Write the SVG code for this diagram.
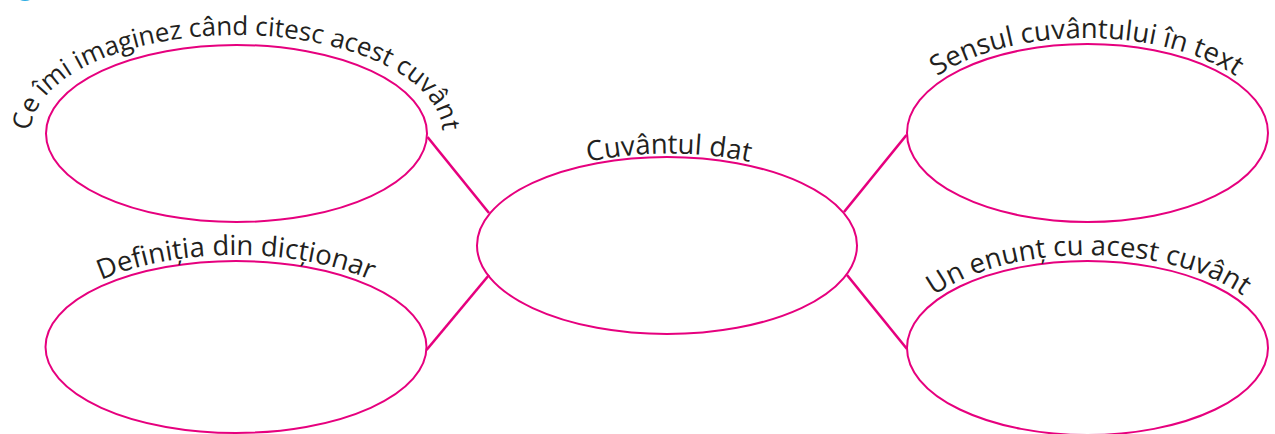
<svg xmlns="http://www.w3.org/2000/svg" width="1275" height="434" viewBox="0 0 1275 434">
  <style>
    .node { fill: none; stroke: #E6007E; stroke-width: 2; }
    .conn { stroke: #E6007E; stroke-width: 2.6; fill: none; stroke-linecap: butt; }
    .lbl { font-family: "Open Sans", "Noto Sans", sans-serif; font-size: 27.5px; fill: #231F20; }
    .lbl-long { font-size: 26px; }
  </style>
  <defs>
    <path id="p-tl" d="M 236.5,232 A 206,98.5 0 0 1 236.5,35 A 206,98.5 0 0 1 236.5,232"/>
    <path id="p-bl" d="M 236,439 A 196.5,92 0 0 1 236,255 A 196.5,92 0 0 1 236,439"/>
    <path id="p-c" d="M 669,339.5 A 194,93 0 0 1 669,153.5 A 194,93 0 0 1 669,339.5"/>
    <path id="p-tr" d="M 1086.5,228 A 186,95 0 0 1 1086.5,38 A 186,95 0 0 1 1086.5,228"/>
    <path id="p-br" d="M 1088.5,441 A 186.5,93 0 0 1 1088.5,255 A 186.5,93 0 0 1 1088.5,441"/>
  </defs>
  <circle cx="25" cy="-11" r="12" fill="#29ABE2"/>
  <g id="connectors">
    <line class="conn" x1="427.5" y1="137" x2="489" y2="213"/>
    <line class="conn" x1="426.5" y1="350" x2="489" y2="275"/>
    <line class="conn" x1="844" y1="212" x2="906.5" y2="135"/>
    <line class="conn" x1="847" y1="275" x2="907" y2="349"/>
  </g>
  <g id="node-imaginez">
    <ellipse class="node" cx="236.5" cy="133.5" rx="190.5" ry="88.5"/>
    <text class="lbl lbl-long" text-anchor="middle"><textPath href="#p-tl" startOffset="50%">Ce îmi imaginez când citesc acest cuvânt</textPath></text>
  </g>
  <g id="node-definitia">
    <ellipse class="node" cx="236" cy="347" rx="190.5" ry="86"/>
    <text class="lbl" text-anchor="middle"><textPath href="#p-bl" startOffset="50%">Definiția din dicționar</textPath></text>
  </g>
  <g id="node-cuvantul">
    <ellipse class="node" cx="667" cy="245.5" rx="190" ry="88.5"/>
    <text class="lbl" text-anchor="middle"><textPath href="#p-c" startOffset="50%">Cuvântul dat</textPath></text>
  </g>
  <g id="node-sensul">
    <ellipse class="node" cx="1087.5" cy="133" rx="180.5" ry="89"/>
    <text class="lbl" text-anchor="middle"><textPath href="#p-tr" startOffset="50%">Sensul cuvântului în text</textPath></text>
  </g>
  <g id="node-enunt">
    <ellipse class="node" cx="1087.5" cy="348" rx="180.5" ry="87"/>
    <text class="lbl" text-anchor="middle"><textPath href="#p-br" startOffset="50%">Un enunț cu acest cuvânt</textPath></text>
  </g>
</svg>
